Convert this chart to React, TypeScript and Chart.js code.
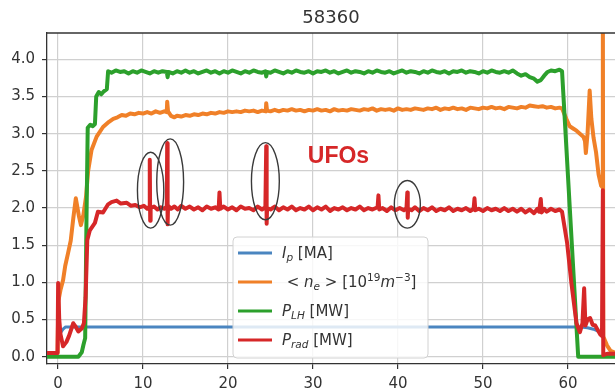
import React, { useEffect, useRef } from "react";
import { Chart, registerables } from "chart.js";

Chart.register(...registerables);

// ---------- data ----------
const TITLE = "58360";
const X_TICKS = [0, 10, 20, 30, 40, 50, 60];
const Y_TICKS = [0, 0.5, 1.0, 1.5, 2.0, 2.5, 3.0, 3.5, 4.0];
const X_MIN = -1.29;
const X_MAX = 65.53;
const Y_MIN = -0.098;
const Y_MAX = 4.354;

// I_p [MA]
const ipT = [0.35, 0.6, 0.9, 1.5, 61.5, 62.3, 63.0, 63.6, 64.1];
const ipV = [0.33, 0.37, 0.4, 0.4, 0.4, 0.39, 0.37, 0.34, 0.31];

// <n_e> [1e19 m^-3]
const neT = [
  -1.3, -0.05, 0.05, 0.3, 0.6, 0.85, 1.2, 1.5, 1.8, 2.1,
  2.45, 2.7, 2.98, 3.3, 3.55, 3.95, 4.55, 5.3, 6.0, 6.5,
  7.0, 7.5, 8.0, 8.5, 9.0, 9.5, 10.0, 10.5, 11.0, 11.5,
  12.0, 12.5, 12.8, 12.85, 12.95, 13.3, 13.7, 14.0, 14.5, 15.0,
  15.5, 16.0, 16.5, 17.0, 17.5, 18.0, 18.5, 19.0, 19.5, 20.0,
  20.5, 21.0, 21.5, 22.0, 22.5, 23.0, 23.5, 24.0, 24.45, 24.5,
  24.6, 25.0, 25.5, 26.0, 26.5, 27.0, 27.5, 28.0, 28.5, 29.0,
  29.5, 30.0, 30.5, 31.0, 31.5, 32.0, 32.5, 33.0, 33.5, 34.0,
  34.5, 35.0, 35.5, 36.0, 36.5, 37.0, 37.5, 38.0, 38.5, 39.0,
  39.5, 40.0, 40.5, 41.0, 41.5, 42.0, 42.5, 43.0, 43.5, 44.0,
  44.5, 45.0, 45.5, 46.0, 46.5, 47.0, 47.5, 48.0, 48.5, 49.0,
  49.5, 50.0, 50.5, 51.0, 51.5, 52.0, 52.5, 53.0, 53.5, 54.0,
  54.5, 55.0, 55.5, 56.0, 56.5, 57.0, 57.5, 58.0, 58.5, 59.0,
  59.3, 59.8, 60.2, 60.6, 61.0, 61.4, 61.8, 62.0, 62.1, 62.3,
  62.55, 62.75, 63.0, 63.3, 63.6, 63.9, 64.05, 64.1, 64.15, 64.6,
  65.0, 65.6,
];
const neV = [
  0.05, 0.05, 0.75, 0.9, 1.03, 1.22, 1.4, 1.56, 1.86, 2.13,
  1.9, 1.77, 1.9, 2.15, 2.5, 2.78, 2.96, 3.09, 3.16, 3.2,
  3.22, 3.25, 3.24, 3.27, 3.26, 3.28, 3.27, 3.29, 3.27, 3.3,
  3.28, 3.3, 3.29, 3.43, 3.3, 3.24, 3.22, 3.24, 3.23, 3.25,
  3.24, 3.26, 3.25, 3.27, 3.26, 3.28, 3.27, 3.29, 3.28, 3.3,
  3.29, 3.3, 3.29, 3.31, 3.3, 3.31, 3.29, 3.31, 3.3, 3.41,
  3.31, 3.3, 3.32, 3.3, 3.32, 3.31, 3.33, 3.31, 3.32, 3.3,
  3.32, 3.31, 3.33, 3.31, 3.32, 3.3, 3.33, 3.31, 3.32, 3.31,
  3.33, 3.32, 3.31, 3.33, 3.32, 3.34, 3.31, 3.33, 3.32, 3.33,
  3.31, 3.34, 3.32, 3.33, 3.32, 3.34, 3.33, 3.32, 3.34, 3.33,
  3.35, 3.32, 3.34, 3.33, 3.35, 3.33, 3.34, 3.32, 3.35, 3.34,
  3.33, 3.35, 3.34, 3.36, 3.34, 3.35, 3.33, 3.36, 3.35, 3.34,
  3.36, 3.35, 3.38, 3.37, 3.36, 3.37, 3.35, 3.36, 3.34, 3.35,
  3.34, 3.2, 3.1, 3.07, 3.04, 3.0, 2.96, 2.9, 2.74, 3.0,
  3.58, 3.2, 2.95, 2.75, 2.45, 2.3, 2.28, 5.0, 0.27, 0.15,
  0.08, 0.05,
];

// P_LH [MW]
const plhT = [
  -1.3, 2.4, 2.8, 3.0, 3.2, 3.35, 3.5, 3.8, 4.1, 4.35,
  4.5, 4.8, 5.1, 5.4, 5.75, 5.9, 6.3, 6.8, 7.3, 7.8,
  8.3, 8.8, 9.3, 9.8, 10.3, 10.8, 11.3, 11.8, 12.3, 12.8,
  12.9, 13.0, 13.5, 14.0, 14.5, 15.0, 15.5, 16.0, 16.5, 17.0,
  17.5, 18.0, 18.5, 19.0, 19.5, 20.0, 20.5, 21.0, 21.5, 22.0,
  22.5, 23.0, 23.5, 24.0, 24.4, 24.5, 24.6, 25.0, 25.5, 26.0,
  26.5, 27.0, 27.5, 28.0, 28.5, 29.0, 29.5, 30.0, 30.5, 31.0,
  31.5, 32.0, 32.5, 33.0, 33.5, 34.0, 34.5, 35.0, 35.5, 36.0,
  36.5, 37.0, 37.5, 38.0, 38.5, 39.0, 39.5, 40.0, 40.5, 41.0,
  41.5, 42.0, 42.5, 43.0, 43.5, 44.0, 44.5, 45.0, 45.5, 46.0,
  46.5, 47.0, 47.5, 48.0, 48.5, 49.0, 49.5, 50.0, 50.5, 51.0,
  51.5, 52.0, 52.5, 53.0, 53.5, 54.0, 54.5, 55.0, 55.5, 56.0,
  56.4, 56.8, 57.2, 57.6, 58.0, 58.5, 59.0, 59.3, 61.2, 65.6,
];
const plhV = [
  0, 0, 0.06, 0.16, 0.25, 1.8, 3.08, 3.12, 3.1, 3.13,
  3.5, 3.56, 3.53, 3.57, 3.6, 3.84, 3.82, 3.85, 3.83, 3.84,
  3.81, 3.84, 3.82, 3.85, 3.83, 3.81, 3.84, 3.82, 3.84, 3.83,
  3.76, 3.83, 3.81, 3.84, 3.82, 3.85, 3.82, 3.84, 3.81, 3.83,
  3.85, 3.82, 3.84, 3.81, 3.84, 3.82, 3.85, 3.83, 3.81, 3.84,
  3.82, 3.85, 3.83, 3.82, 3.84, 3.77, 3.83, 3.82, 3.85, 3.83,
  3.81, 3.84, 3.82, 3.85, 3.83, 3.82, 3.84, 3.81, 3.84, 3.83,
  3.85, 3.82, 3.84, 3.81, 3.83, 3.85, 3.82, 3.84, 3.83, 3.81,
  3.84, 3.82, 3.85, 3.83, 3.82, 3.84, 3.81, 3.83, 3.85, 3.82,
  3.84, 3.83, 3.81, 3.84, 3.82, 3.85, 3.83, 3.82, 3.84, 3.81,
  3.84, 3.83, 3.85, 3.82, 3.84, 3.83, 3.81, 3.84, 3.82, 3.85,
  3.83, 3.82, 3.84, 3.82, 3.85, 3.81, 3.78, 3.8, 3.76, 3.74,
  3.7, 3.72, 3.78, 3.83, 3.85, 3.84, 3.86, 3.84, 0.0, 0.0,
];

// P_rad [MW]
const radT = [
  -1.3, -0.05, 0.02, 0.15, 0.3, 0.6, 1.0, 1.3, 1.8, 2.1,
  2.4, 2.8, 3.05, 3.25, 3.38, 3.45, 3.75, 4.35, 4.7, 5.3,
  5.9, 6.3, 6.9, 7.4, 8.1, 8.6, 9.1, 9.6, 10.1, 10.5,
  10.75, 10.8, 10.85, 10.9, 11.3, 11.7, 12.1, 12.5, 12.8, 12.85,
  12.9, 12.95, 13.3, 13.7, 14.1, 14.5, 15.0, 15.5, 16.0, 16.5,
  17.0, 17.5, 18.0, 18.5, 18.9, 19.0, 19.1, 19.5, 20.0, 20.5,
  21.0, 21.5, 22.0, 22.5, 23.0, 23.5, 24.0, 24.4, 24.5, 24.55,
  24.6, 25.0, 25.5, 26.0, 26.5, 27.0, 27.5, 28.0, 28.5, 29.0,
  29.5, 30.0, 30.5, 31.0, 31.5, 32.0, 32.5, 33.0, 33.5, 34.0,
  34.5, 35.0, 35.5, 36.0, 36.5, 37.0, 37.6, 37.7, 37.8, 38.2,
  38.7, 39.2, 39.7, 40.2, 40.7, 41.0, 41.1, 41.15, 41.2, 41.6,
  42.0, 42.5, 43.0, 43.5, 44.0, 44.5, 45.0, 45.5, 46.0, 46.5,
  47.0, 47.5, 48.0, 48.5, 48.9, 49.0, 49.1, 49.5, 50.0, 50.5,
  51.0, 51.5, 52.0, 52.5, 53.0, 53.5, 54.0, 54.5, 55.0, 55.5,
  56.0, 56.4, 56.6, 56.8, 56.9, 57.2, 57.5, 58.0, 58.5, 59.0,
  59.3, 59.9, 60.4, 61.0, 61.4, 61.7, 61.9, 62.05, 62.3, 62.6,
  62.9, 63.2, 63.5, 63.8, 64.0, 64.1, 64.15, 64.6, 65.6,
];
const radV = [
  0.05, 0.05, 0.99, 0.5, 0.3, 0.14, 0.2, 0.28, 0.45, 0.4,
  0.34, 0.38, 0.45, 0.8, 1.3, 1.57, 1.7, 1.8, 1.95, 1.94,
  2.05, 2.08, 2.1, 2.06, 2.07, 2.03, 2.04, 2.01, 2.03, 1.99,
  2.02, 2.65, 1.83, 2.0, 2.02, 1.98, 2.01, 1.99, 2.02, 2.87,
  1.78, 2.03, 1.99, 2.02, 1.98, 2.03, 1.99, 2.02, 1.98, 2.01,
  1.97, 2.02, 1.99, 2.01, 1.98, 2.21, 1.99, 2.02, 1.98, 2.01,
  1.97, 2.02, 1.99, 2.0, 1.97, 2.02, 1.98, 2.01, 2.83, 1.79,
  2.0, 1.98, 2.02, 1.97, 2.01, 1.98, 2.02, 1.97, 2.0, 1.98,
  2.02, 1.97, 2.01, 1.98, 2.02, 1.96, 2.0, 1.98, 2.01, 1.97,
  2.0, 1.98, 2.02, 1.97, 2.0, 1.98, 2.01, 2.17, 1.98, 2.0,
  1.96, 2.01, 1.97, 2.0, 1.97, 2.0, 2.21, 1.87, 1.99, 1.97,
  2.01, 1.96, 2.0, 1.97, 2.01, 1.96, 1.99, 1.97, 2.01, 1.96,
  1.99, 1.97, 2.0, 1.96, 1.99, 2.13, 1.97, 1.99, 1.96, 2.0,
  1.97, 1.99, 1.96, 2.0, 1.96, 1.99, 1.95, 1.99, 1.94, 1.98,
  1.93, 1.99, 1.95, 2.12, 1.94, 1.99, 1.95, 1.99, 1.96, 1.98,
  1.95, 1.53, 0.99, 0.45, 0.33, 0.45, 0.92, 0.42, 0.5, 0.52,
  0.43, 0.42, 0.36, 0.3, 0.28, 2.24, 0.02, 0.04, 0.04,
];

// annotations (data units)
const ELLIPSES = [
  { t: 10.9, v: 2.24, dt: 1.55, dv: 0.51 },
  { t: 13.2, v: 2.35, dt: 1.58, dv: 0.58 },
  { t: 24.4, v: 2.36, dt: 1.64, dv: 0.52 },
  { t: 41.1, v: 2.05, dt: 1.53, dv: 0.32 },
];
const UFO_LABEL = { text: "UFOs", t: 33.0, v: 2.69 };

// ---------- styles ----------
const BLUE = "#4a85c0";
const ORANGE = "#f08028";
const GREEN = "#2ca02c";
const RED = "#d62728";
const TEXT = "#333333";
const FRAME = "#333333";
const GRID = "#d0d0d0";
const FONT = '"DejaVu Sans"';

type Run = { t: string; it?: boolean; sub?: boolean; sup?: boolean };
const LEGEND: { color: string; runs: Run[] }[] = [
  { color: BLUE, runs: [{ t: "I", it: true }, { t: "p", it: true, sub: true }, { t: " [MA]" }] },
  {
    color: ORANGE,
    runs: [
      { t: " < " },
      { t: "n", it: true },
      { t: "e", it: true, sub: true },
      { t: " > [10" },
      { t: "19", sup: true },
      { t: "m", it: true },
      { t: "\u22123", sup: true },
      { t: "]" },
    ],
  },
  { color: GREEN, runs: [{ t: "P", it: true }, { t: "LH", it: true, sub: true }, { t: " [MW]" }] },
  { color: RED, runs: [{ t: "P", it: true }, { t: "rad", it: true, sub: true }, { t: " [MW]" }] },
];

function check(a: number[], b: number[], n: string) {
  if (a.length !== b.length) throw new Error(`length mismatch ${n}: ${a.length} vs ${b.length}`);
}

function pts(t: number[], v: number[]) {
  return t.map((x, i) => ({ x, y: v[i] }));
}

function drawRuns(ctx: CanvasRenderingContext2D, runs: Run[], x: number, y: number, size: number) {
  let cx = x;
  for (const r of runs) {
    const s = r.sub || r.sup ? size * 0.7 : size;
    ctx.font = `${r.it ? "italic " : ""}${s}px ${FONT}`;
    const dy = r.sub ? size * 0.22 : r.sup ? -size * 0.42 : 0;
    ctx.fillText(r.t, cx, y + dy);
    cx += ctx.measureText(r.t).width;
  }
}

const overlay = {
  id: "overlay",
  afterDatasetsDraw(chart: any) {
    const { ctx, chartArea: a, scales } = chart;
    const xs = scales.x;
    const ys = scales.y;
    ctx.save();
    // top frame
    ctx.strokeStyle = FRAME;
    ctx.lineWidth = 1.3;
    ctx.beginPath();
    ctx.moveTo(a.left, a.top);
    ctx.lineTo(a.right, a.top);
    ctx.stroke();

    // ellipses
    ctx.strokeStyle = "#3a3a3a";
    ctx.lineWidth = 1.4;
    for (const e of ELLIPSES) {
      const cx = xs.getPixelForValue(e.t);
      const cy = ys.getPixelForValue(e.v);
      const rx = Math.abs(xs.getPixelForValue(e.t + e.dt) - cx);
      const ry = Math.abs(ys.getPixelForValue(e.v + e.dv) - cy);
      ctx.beginPath();
      ctx.ellipse(cx, cy, rx, ry, 0, 0, Math.PI * 2);
      ctx.stroke();
    }

    // UFOs label
    ctx.fillStyle = RED;
    ctx.font = 'bold 23px "Liberation Sans"';
    ctx.textAlign = "center";
    ctx.textBaseline = "middle";
    ctx.fillText(UFO_LABEL.text, xs.getPixelForValue(UFO_LABEL.t), ys.getPixelForValue(UFO_LABEL.v));

    // legend
    const bx = 233, by = 237, bw = 195, bh = 121;
    ctx.beginPath();
    ctx.roundRect(bx, by, bw, bh, 4);
    ctx.fillStyle = "rgba(255,255,255,0.82)";
    ctx.fill();
    ctx.strokeStyle = "#d2d2d2";
    ctx.lineWidth = 1;
    ctx.stroke();
    ctx.textAlign = "left";
    ctx.textBaseline = "alphabetic";
    LEGEND.forEach((item, i) => {
      const ry = 253 + i * 29;
      ctx.strokeStyle = item.color;
      ctx.lineWidth = 3;
      ctx.beginPath();
      ctx.moveTo(238, ry);
      ctx.lineTo(272, ry);
      ctx.stroke();
      ctx.fillStyle = TEXT;
      drawRuns(ctx, item.runs, 282, ry + 5, 15);
    });

    // title
    ctx.fillStyle = TEXT;
    ctx.font = `18px ${FONT}`;
    ctx.textAlign = "center";
    ctx.textBaseline = "alphabetic";
    ctx.fillText(TITLE, (a.left + a.right) / 2, 23);
    ctx.restore();
  },
};

export default function App() {
  const ref = useRef<HTMLCanvasElement | null>(null);
  useEffect(() => {
    check(ipT, ipV, "ip");
    check(neT, neV, "ne");
    check(plhT, plhV, "plh");
    check(radT, radV, "rad");
    Chart.defaults.font.family = FONT;
    const line = (data: any, color: string, width: number, order: number) => ({
      data,
      borderColor: color,
      backgroundColor: color,
      borderWidth: width,
      pointRadius: 0,
      tension: 0,
      fill: false,
      order,
      borderJoinStyle: "round" as const,
    });
    const chart = new Chart(ref.current as HTMLCanvasElement, {
      type: "line",
      data: {
        datasets: [
          { label: "Ip", ...line(pts(ipT, ipV), BLUE, 3, 4) },
          { label: "ne", ...line(pts(neT, neV), ORANGE, 4, 3) },
          { label: "PLH", ...line(pts(plhT, plhV), GREEN, 4, 2) },
          { label: "Prad", ...line(pts(radT, radV), RED, 4, 1) },
        ],
      },
      options: {
        animation: false,
        responsive: false,
        devicePixelRatio: 1,
        events: [],
        layout: { padding: { top: 33, left: 0, right: 0, bottom: 0 } },
        plugins: { legend: { display: false }, title: { display: false }, tooltip: { enabled: false } },
        scales: {
          x: {
            type: "linear",
            min: X_MIN,
            max: X_MAX,
            afterFit: (s: any) => {
              s.height = 28;
            },
            afterBuildTicks: (s: any) => {
              s.ticks = X_TICKS.map((value) => ({ value }));
            },
            ticks: {
              color: TEXT,
              font: { size: 15, family: FONT },
              padding: 6,
              maxRotation: 0,
              autoSkip: false,
              callback: (v: any) => String(v),
            },
            grid: { color: GRID, lineWidth: 1.2, tickColor: FRAME, tickLength: 5, tickWidth: 1.2 },
            border: { display: true, color: FRAME, width: 1.3 },
          },
          y: {
            type: "linear",
            min: Y_MIN,
            max: Y_MAX,
            afterFit: (s: any) => {
              s.width = 47;
            },
            afterBuildTicks: (s: any) => {
              s.ticks = Y_TICKS.map((value) => ({ value }));
            },
            ticks: {
              color: TEXT,
              font: { size: 15, family: FONT },
              padding: 7,
              autoSkip: false,
              callback: (v: any) => Number(v).toFixed(1),
            },
            grid: { color: GRID, lineWidth: 1.2, tickColor: FRAME, tickLength: 5, tickWidth: 1.2 },
            border: { display: true, color: FRAME, width: 1.3 },
          },
        },
      },
      plugins: [overlay],
    });
    return () => chart.destroy();
  }, []);
  return (
    <div style={{ position: "fixed", left: 0, top: 0, width: 615, height: 392, background: "#fff" }}>
      <canvas ref={ref} width={615} height={392} style={{ display: "block", width: 615, height: 392 }} />
    </div>
  );
}
